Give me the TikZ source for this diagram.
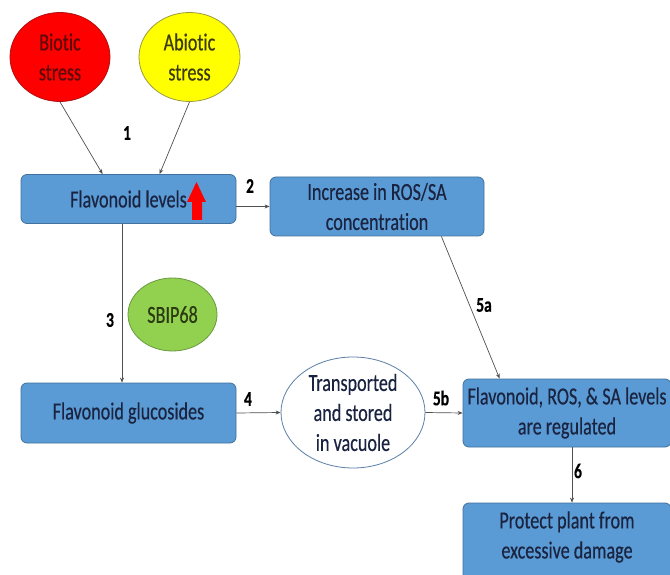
\documentclass[tikz,border=0pt]{standalone}
\usepackage{fontspec}
\setmainfont{Carlito}[FakeStretch=0.74,Ligatures={NoCommon},FakeBold=0.4]
\usetikzlibrary{arrows.meta,shapes.geometric,calc}
\definecolor{boxfill}{HTML}{5B9BD5}
\definecolor{boxline}{HTML}{41719C}
\definecolor{boxtext}{HTML}{1A2440}
\definecolor{redfill}{HTML}{FF0000}
\definecolor{redline}{HTML}{B01010}
\definecolor{redtext}{HTML}{5C0A0A}
\definecolor{yelfill}{HTML}{FFFF00}
\definecolor{yelline}{HTML}{9A9A40}
\definecolor{yeltext}{HTML}{3B3B10}
\definecolor{grnfill}{HTML}{92D050}
\definecolor{grnline}{HTML}{6A9A40}
\definecolor{grntext}{HTML}{2B3A12}
\definecolor{ovline}{HTML}{5B7FA8}
\definecolor{conn}{HTML}{505050}
\begin{document}
\begin{tikzpicture}[x=1pt,y=-1pt,
  txt/.style={font=\fontsize{24.5}{30}\selectfont, align=center, inner sep=0pt},
  blbox/.style={txt, rectangle, rounded corners=6pt, draw=boxline, line width=0.8pt, fill=boxfill, text=boxtext},
  oval/.style={txt, ellipse, line width=0.8pt},
  arr/.style={draw=conn, line width=0.7pt, -{Stealth[length=5pt,width=4pt]}},
  lab/.style={font=\fontsize{21}{24}\selectfont\bfseries, text=black, inner sep=0pt}]
\clip (0,0) rectangle (670,575);
\fill[white] (0,0) rectangle (670,575);

% ellipses
\node[oval, fill=redfill, draw=redline, text=redtext, minimum width=100pt, minimum height=89pt] (bio) at (60,57) {Biotic\\stress};
\node[oval, fill=yelfill, draw=yelline, text=yeltext, minimum width=101pt, minimum height=89pt] (abio) at (189.5,57) {Abiotic\\stress};
\node[oval, fill=grnfill, draw=grnline, text=grntext, minimum width=89pt, minimum height=73pt] (sbip) at (172.5,314.5) {SBIP68};
\node[oval, fill=white, draw=ovline, text=boxtext, minimum width=144pt, minimum height=111pt] (trans) at (353,412.5) {Transported\\and stored\\in vacuole};

% boxes
\node[blbox, minimum width=215pt, minimum height=49pt] (flav) at (128.5,199) {Flavonoid levels};
\node[blbox, minimum width=214pt, minimum height=59pt] (inc) at (377,206.5) {Increase in ROS/SA\\concentration};
\node[blbox, minimum width=215pt, minimum height=60pt] (gluc) at (128.5,413) {Flavonoid glucosides};
\node[blbox, minimum width=208pt, minimum height=68pt] (reg) at (567,413) {Flavonoid, ROS, \& SA levels\\are regulated};
\node[blbox, minimum width=208pt, minimum height=84pt] (prot) at (567,545) {};
\node[txt, text=boxtext] (prottxt) at (567,537) {Protect plant from\\excessive damage};

% red up arrow
\fill[redfill] (187,202) -- (196.5,182) -- (206,202) -- (202,202) -- (202,220) -- (192,220) -- (192,202) -- cycle;

% connectors
\draw[arr] (bio.south) -- ($(flav.north west)+(82,0)$);
\draw[arr] (abio.south) -- ($(flav.north west)+(139,0)$);
\draw[arr] (inc.west -| flav.east) -- (inc.west);
\draw[arr] ($(flav.south)+(-6.5,0)$) -- ($(gluc.north)+(-6.5,0)$);
\draw[arr] ($(inc.south east)+(-43,0)$) -- ($(reg.north west)+(37,0)$);
\draw[arr] (gluc.east) -- (trans.west);
\draw[arr] (trans.east) -- (reg.west);
\draw[arr] ($(reg.south)+(5,0)$) -- ($(prot.north)+(5,0)$);

% labels
\node[lab] (l1) at (127,133) {1};
\node[lab] (l2) at (250,186) {2};
\node[lab] (l3) at (110,320) {3};
\node[lab] (l4) at (248,399) {4};
\node[lab] (l5a) at (484,305) {5a};
\node[lab] (l5b) at (441,398) {5b};
\node[lab] (l6) at (578,471) {6};
\end{tikzpicture}
\end{document}
